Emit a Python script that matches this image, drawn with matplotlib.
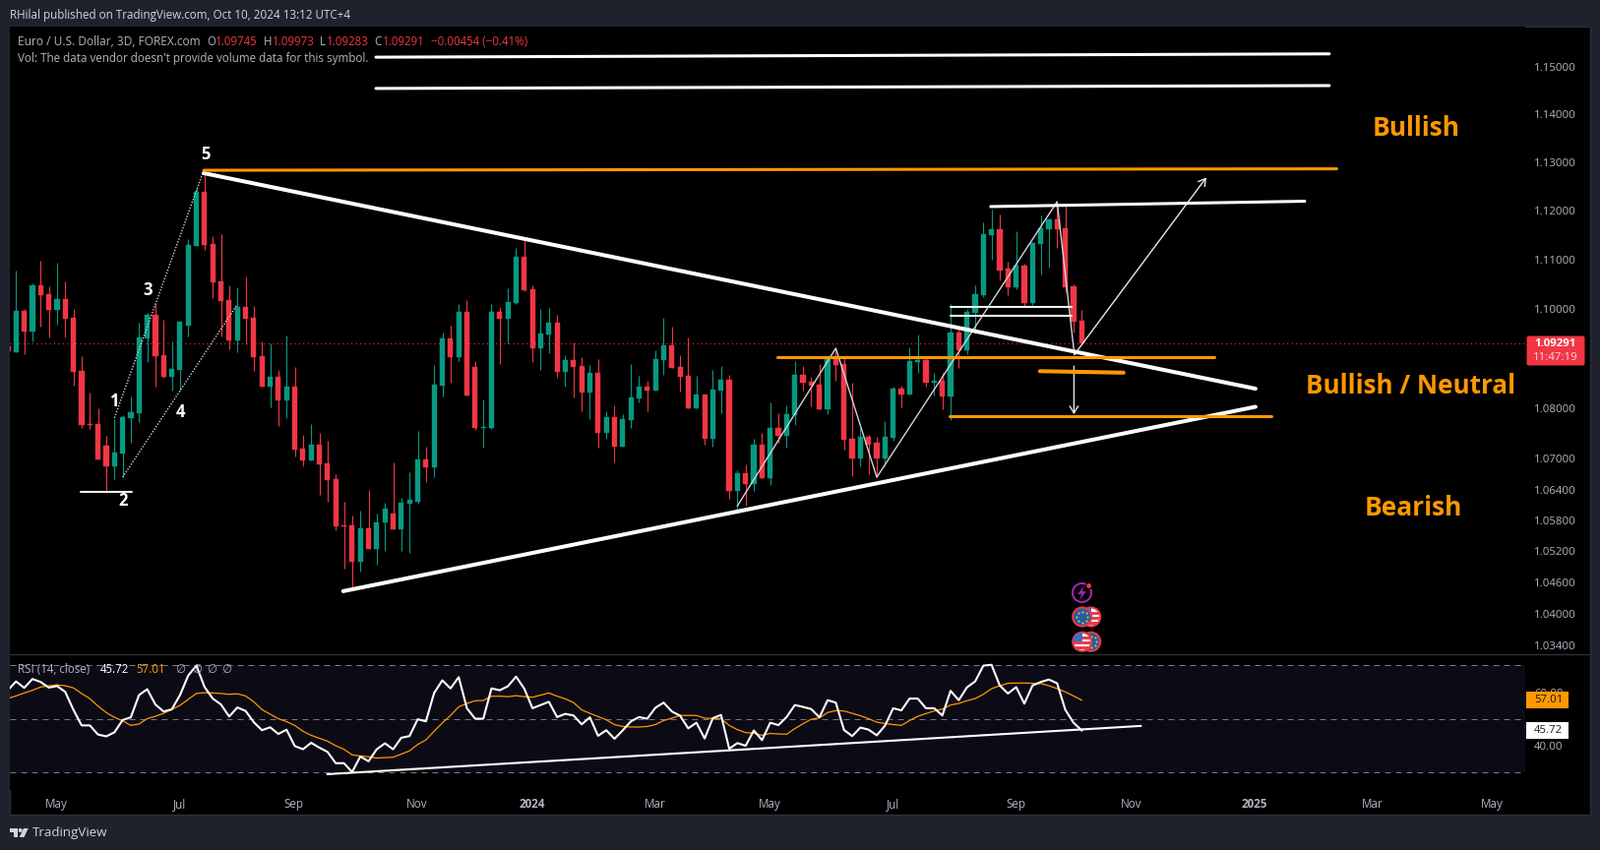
import matplotlib
matplotlib.use('Agg')
import matplotlib.pyplot as plt
import matplotlib.patches as mpatches
from matplotlib.ticker import NullLocator
import numpy as np

W, H = 1626, 864
plt.rcParams['font.family'] = ['Open Sans', 'DejaVu Sans']

# EURUSD 3D candles, first one is cut by the left edge of the pane
opens = [1.0923,
    1.0912,1.0995,1.0954,1.1047,1.1029,1.0997,1.1019,1.0981,1.0875,1.0768,
    1.0769,1.0726,1.0686,1.0711,1.0781,1.0790,1.0940,1.0987,1.0906,1.0863,
    1.0876,1.0965,1.1127,1.1238,1.1131,1.1055,1.1017,1.0936,1.1003,1.0981,
    1.0904,1.0843,1.0863,1.0816,1.0843,1.0720,1.0697,1.0728,1.0692,1.0660,
    1.0570,1.0570,1.0500,1.0565,1.0525,1.0575,1.0593,1.0563,1.0612,1.0617,
    1.0699,1.0684,1.0845,1.0940,1.0902,1.0993,1.0882,1.0762,1.0761,1.0993,
    1.0979,1.1011,1.1105,1.1039,1.0920,1.0948,1.0971,1.0873,1.0896,1.0884,
    1.0831,1.0871,1.0751,1.0783,1.0724,1.0777,1.0820,1.0843,1.0835,1.0896,
    1.0926,1.0882,1.0865,1.0800,1.0828,1.0739,1.0835,1.0857,1.0637,1.0672,
    1.0651,1.0728,1.0662,1.0761,1.0746,1.0787,1.0867,1.0853,1.0847,1.0798,
    1.0904,1.0888,1.0739,1.0701,1.0744,1.0732,1.0701,1.0741,1.0839,1.0828,
    1.0892,1.0896,1.0851,1.0855,1.0824,1.0952,1.0916,1.0991,1.1027,1.1149,
    1.1161,1.1080,1.1043,1.1086,1.1011,1.1131,1.1161,1.1182,1.1164,1.1045,1.09745]
highs = [1.0923,
    1.1077,1.0999,1.1051,1.1097,1.1045,1.1093,1.1055,1.0999,1.0904,1.0831,
    1.0800,1.0746,1.0779,1.0787,1.0824,1.0971,1.0991,1.1011,1.0977,1.0934,
    1.0973,1.1141,1.1249,1.1277,1.1147,1.1152,1.1047,1.1043,1.1065,1.1005,
    1.0934,1.0930,1.0876,1.0946,1.0882,1.0748,1.0769,1.0751,1.0736,1.0670,
    1.0616,1.0589,1.0599,1.0639,1.0593,1.0614,1.0693,1.0623,1.0674,1.0756,
    1.0724,1.0886,1.0952,1.0965,1.1010,1.1017,1.0894,1.0818,1.1010,1.1003,
    1.1041,1.1123,1.1141,1.1047,1.0999,1.1001,1.0987,1.0906,1.0932,1.0902,
    1.0886,1.0898,1.0794,1.0806,1.0788,1.0888,1.0865,1.0855,1.0916,1.0981,
    1.0963,1.0906,1.0942,1.0865,1.0828,1.0876,1.0884,1.0867,1.0678,1.0690,
    1.0739,1.0751,1.0812,1.0790,1.0806,1.0894,1.0884,1.0863,1.0888,1.0904,
    1.0918,1.0904,1.0851,1.0761,1.0748,1.0744,1.0775,1.0843,1.0845,1.0922,
    1.0948,1.0902,1.0871,1.0871,1.1010,1.0963,1.0999,1.1047,1.1176,1.1202,
    1.1192,1.1095,1.1157,1.1091,1.1135,1.1190,1.1184,1.1218,1.1210,1.1049,1.09973]
lows = [1.0913,
    1.0912,1.0908,1.0934,1.0963,1.0942,1.0967,1.0942,1.0845,1.0761,1.0759,
    1.0699,1.0633,1.0660,1.0664,1.0732,1.0773,1.0892,1.0843,1.0861,1.0835,
    1.0835,1.0944,1.1127,1.1119,1.1021,1.0944,1.0918,1.0912,1.0928,1.0875,
    1.0843,1.0802,1.0765,1.0781,1.0705,1.0686,1.0697,1.0630,1.0616,1.0561,
    1.0487,1.0447,1.0481,1.0525,1.0494,1.0521,1.0563,1.0521,1.0516,1.0612,
    1.0655,1.0664,1.0824,1.0851,1.0894,1.0826,1.0757,1.0722,1.0759,1.0888,
    1.0930,1.1010,1.1035,1.0892,1.0876,1.0910,1.0861,1.0843,1.0822,1.0794,
    1.0779,1.0722,1.0739,1.0693,1.0724,1.0761,1.0812,1.0794,1.0835,1.0867,
    1.0880,1.0833,1.0800,1.0800,1.0729,1.0724,1.0790,1.0622,1.0601,1.0609,
    1.0637,1.0662,1.0649,1.0732,1.0722,1.0767,1.0835,1.0804,1.0798,1.0788,
    1.0855,1.0718,1.0666,1.0686,1.0670,1.0664,1.0686,1.0736,1.0802,1.0828,
    1.0871,1.0843,1.0826,1.0798,1.0777,1.0880,1.0908,1.0950,1.1023,1.1099,
    1.1057,1.1027,1.1039,1.1003,1.1007,1.1069,1.1083,1.1123,1.1033,1.0952,1.09283]
closes = [1.0913,
    1.0995,1.0954,1.1047,1.1027,1.0997,1.1019,1.0979,1.0873,1.0767,1.0767,
    1.0699,1.0686,1.0713,1.0783,1.0792,1.0942,1.0987,1.0904,1.0863,1.0878,
    1.0973,1.1129,1.1238,1.1129,1.1053,1.1015,1.0936,1.1003,1.0979,1.0902,
    1.0843,1.0863,1.0816,1.0843,1.0718,1.0697,1.0728,1.0690,1.0658,1.0568,
    1.0569,1.0500,1.0565,1.0525,1.0576,1.0603,1.0563,1.0614,1.0619,1.0699,
    1.0684,1.0847,1.0940,1.0902,1.0993,1.0826,1.0761,1.0763,1.0993,1.0979,
    1.1013,1.1105,1.1037,1.0920,1.0950,1.0971,1.0873,1.0896,1.0882,1.0831,
    1.0871,1.0751,1.0783,1.0724,1.0779,1.0822,1.0843,1.0835,1.0898,1.0926,
    1.0880,1.0863,1.0800,1.0828,1.0739,1.0837,1.0857,1.0637,1.0672,1.0651,
    1.0728,1.0662,1.0761,1.0746,1.0788,1.0867,1.0851,1.0845,1.0798,1.0904,
    1.0886,1.0737,1.0701,1.0744,1.0729,1.0701,1.0744,1.0839,1.0828,1.0894,
    1.0896,1.0851,1.0855,1.0824,1.0952,1.0916,1.0993,1.1029,1.1151,1.1161,
    1.1077,1.1043,1.1086,1.1011,1.1133,1.1164,1.1182,1.1161,1.1043,1.0973,1.09291]

rsi = [60.7,
    64.0,61.6,64.9,63.8,61.7,62.3,60.1,53.4,47.6,47.6,
    44.2,43.5,45.0,49.6,50.6,58.9,61.1,55.4,52.8,53.6,
    58.9,66.2,69.9,61.9,57.6,55.4,50.9,54.3,53.0,48.8,
    45.8,46.9,44.4,46.0,39.9,38.7,41.1,39.3,37.7,33.5,
    33.5,30.2,36.0,34.2,38.7,40.9,38.7,43.0,43.6,49.9,
    49.1,59.7,64.4,61.4,65.6,54.0,50.1,50.1,61.4,60.7,
    62.2,65.8,61.3,54.0,55.2,56.4,50.7,51.9,51.3,48.0,
    50.6,43.7,45.8,42.6,45.7,49.1,50.7,50.1,54.2,56.1,
    52.8,51.2,46.5,48.6,42.7,50.3,51.5,38.9,41.0,40.0,
    45.7,42.1,48.6,47.7,50.7,55.2,54.5,53.7,50.6,57.0,
    56.1,45.9,43.6,46.8,46.0,43.9,47.5,54.0,53.2,57.6,
    57.6,54.0,54.0,51.3,60.5,57.0,61.8,64.0,69.9,70.2,
    62.5,59.5,61.9,55.7,62.5,63.8,64.7,63.3,53.4,48.6,45.72]
rsi_ma = [57.6,
    58.6,59.7,60.7,61.9,62.4,62.7,62.4,61.6,59.5,57.6,
    54.8,52.4,50.6,49.3,47.6,48.1,50.1,51.0,52.1,53.5,
    55.1,57.3,59.5,59.8,59.7,59.5,59.2,59.4,58.6,56.4,
    53.5,51.8,50.1,49.0,47.6,45.4,43.9,42.8,41.7,40.0,
    38.7,36.6,36.2,35.9,35.4,35.6,35.7,36.9,38.1,40.5,
    42.2,45.4,48.5,51.3,54.5,55.8,56.8,56.9,58.5,58.5,
    58.3,58.7,58.3,58.1,58.9,59.7,58.5,57.5,56.1,53.4,
    52.1,50.9,49.7,47.9,47.2,47.0,47.0,47.2,47.9,49.4,
    50.3,51.3,51.3,51.3,50.3,50.2,50.1,47.6,46.0,44.9,
    44.7,43.9,44.6,44.4,44.3,46.4,48.2,49.9,50.4,52.4,
    53.1,53.0,52.1,51.2,50.1,48.8,48.3,47.9,47.6,49.4,
    51.0,52.0,53.0,53.7,55.2,55.8,56.8,57.6,59.2,61.3,
    62.4,63.3,63.4,63.4,63.3,63.2,62.4,61.3,60.1,58.6,57.01]

price_ticks = [1.034, 1.04, 1.046, 1.052, 1.058, 1.064, 1.07, 1.08,
               1.10, 1.11, 1.12, 1.13, 1.14, 1.15]
time_ticks = [4.95, 19.95, 33.9, 48.9, 63, 78, 92, 107, 122, 136, 151, 165.5, 180]
time_labels = ['May', 'Jul', 'Sep', 'Nov', '2024', 'Mar', 'May', 'Jul', 'Sep', 'Nov',
               '2025', 'Mar', 'May']

# drawings, (bar, price)
white_thick = [[(22.9, 1.1277), (151.2, 1.0839)], [(39.9, 1.0443), (151.2, 1.0803)]]
white_mid = [[(43.9, 1.1520), (160.2, 1.1527)], [(43.9, 1.1454), (160.2, 1.1460)],
             [(118.9, 1.1208), (157.2, 1.1219)]]
orange_lines = [[(22.9, 1.1283), (161.1, 1.1286)], [(92.9, 1.0902), (146.2, 1.0902)],
                [(124.9, 1.0874), (135.1, 1.0871)], [(113.9, 1.0785), (153.1, 1.0785)]]
white_thin = [[(114.0, 1.1004), (128.8, 1.1004)], [(114.0, 1.0985), (128.8, 1.0985)],
              [(7.9, 1.0636), (14.1, 1.0636)]]
wave_dotted = [[(12.0, 1.0781), (22.9, 1.1283)], [(13.0, 1.0664), (26.9, 1.1006)]]
zigzag = [(88.0, 1.0608), (100.0, 1.0920), (105.0, 1.0664), (127.0, 1.1218), (129.1, 1.0907)]
arrow_up = [(129.1, 1.0907), (145.2, 1.1268)]
arrow_down = [(129.05, 1.0884), (129.05, 1.0788)]
rsi_trend = [(38.0, 29.4), (137.2, 47.4)]

GREEN = '#089981'
RED = '#F23645'
ORANGE = '#FF9800'
TEXT = '#B2B5BE'
BG = '#1E222D'
BORDER = '#2A2E39'


def axes_rect(x0, y0, x1, y1):
    return [x0 / W, 1 - y1 / H, (x1 - x0) / W, (y1 - y0) / H]


fig = plt.figure(figsize=(W / 100, H / 100), dpi=100, facecolor=BG)

# frame behind the panes
back = fig.add_axes([0, 0, 1, 1], zorder=0)
back.set_xlim(0, W)
back.set_ylim(H, 0)
back.axis('off')
back.add_patch(mpatches.Rectangle((10, 27), 1606, 801, fc='black', ec=BORDER, lw=1))

# --------------------------------------------------
# price pane
# --------------------------------------------------
ax = fig.add_axes(axes_rect(10, 27, 1550, 665), zorder=1)
ax.set_facecolor('black')
bars = np.arange(len(opens)) - 1
o, h, l, c = map(np.array, (opens, highs, lows, closes))
colors = [GREEN if cc >= oo else RED for oo, cc in zip(o, c)]
ax.vlines(bars, l, h, colors=colors, lw=0.8, zorder=2)
ax.bar(bars, np.abs(c - o), bottom=np.minimum(o, c), width=0.62, color=colors,
       edgecolor=colors, linewidth=0.3, zorder=3)
ax.axhline(closes[-1], color=RED, lw=0.8, ls=(0, (1, 3)), zorder=1)

for seg in wave_dotted:
    xs, ys = zip(*seg)
    ax.plot(xs, ys, color='#D1D4DC', lw=1.0, ls=(0, (1, 1.2)), zorder=4)
xs, ys = zip(*zigzag)
ax.plot(xs, ys, color='#D1D4DC', lw=1.0, zorder=4)
for seg in (arrow_up, arrow_down):
    ax.annotate('', xy=seg[1], xytext=seg[0], zorder=4,
                arrowprops=dict(arrowstyle='->,head_length=0.5,head_width=0.3',
                                color='#E8E8E8', lw=1.0, shrinkA=0, shrinkB=0))
for seg in white_thin:
    xs, ys = zip(*seg)
    ax.plot(xs, ys, color='#F0F0F0', lw=1.5, zorder=5, solid_capstyle='round')
for seg in white_thick:
    xs, ys = zip(*seg)
    ax.plot(xs, ys, color='white', lw=2.9, zorder=5, solid_capstyle='round')
for seg in white_mid:
    xs, ys = zip(*seg)
    ax.plot(xs, ys, color='white', lw=2.2, zorder=5, solid_capstyle='round')
for i, seg in enumerate(orange_lines):
    xs, ys = zip(*seg)
    ax.plot(xs, ys, color=ORANGE, lw=2.9 if i == 2 else 2.2, zorder=6, solid_capstyle='round')

ax.set_yscale('log')
ax.set_xlim(-0.756, 184.1)
ax.set_ylim(1.03227, 1.15850)
ax.set_yticks(price_ticks, labels=['%.5f' % p for p in price_ticks])
ax.yaxis.set_minor_locator(NullLocator())
ax.yaxis.tick_right()
ax.tick_params(axis='y', length=0, pad=6.5, labelcolor=TEXT, labelsize=8.2)
ax.set_xticks([])
for sp in ax.spines.values():
    sp.set_visible(False)

# --------------------------------------------------
# RSI pane
# --------------------------------------------------
ax2 = fig.add_axes(axes_rect(10, 665, 1550, 803), zorder=2)
ax2.set_facecolor('black')
ax2.axhspan(30, 70, color='#0C0A15', lw=0, zorder=0)
for level in (70, 50, 30):
    ax2.axhline(level, color='#787B86', lw=0.72, ls=(0, (6, 5)), zorder=1)
ax2.plot(bars, rsi_ma, color=ORANGE, lw=0.9, zorder=2)
ax2.plot(bars, rsi, color='white', lw=1.5, zorder=3)
xs, ys = zip(*rsi_trend)
ax2.plot(xs, ys, color='white', lw=1.5, zorder=4)
ax2.set_xlim(-0.756, 184.1)
ax2.set_ylim(23.5, 74.15)
ax2.set_yticks([40, 60], labels=['40.00', '60.00'])
ax2.yaxis.tick_right()
ax2.set_xticks(time_ticks, labels=time_labels)
ax2.tick_params(axis='y', length=0, pad=6.5, labelcolor=TEXT, labelsize=8.2)
ax2.tick_params(axis='x', length=0, pad=6, labelcolor=TEXT, labelsize=8.4)
for lab in ax2.get_xticklabels():
    if lab.get_text() == '2024' or lab.get_text() == '2025':
        lab.set_fontweight('bold')
for sp in ax2.spines.values():
    sp.set_visible(False)

# --------------------------------------------------
# everything placed on the canvas, in pixels
# --------------------------------------------------
ov = fig.add_axes([0, 0, 1, 1], zorder=5)
ov.set_xlim(0, W)
ov.set_ylim(H, 0)
ov.axis('off')
ov.patch.set_alpha(0)
ov.plot([10, 1616], [665.3, 665.3], color=BORDER, lw=1)


def label(x, y, s, color=TEXT, size=8.3, ha='left', **kw):
    ov.text(x, y, s, color=color, fontsize=size, ha=ha, va='center', **kw)


label(10, 15, 'RHilal published on TradingView.com, Oct 10, 2024 13:12 UTC+4', '#D1D4DC', 8.35)
label(18, 42, 'Euro / U.S. Dollar, 3D, FOREX.com', size=8.6)
for x, s in ((210, 'O'), (267.6, 'H'), (325, 'L'), (380, 'C')):
    label(x, 42, s)
for x, s in ((219, '1.09745'), (276.6, '1.09973'), (331.7, '1.09283'), (389, '1.09291'),
             (438, '\u22120.00454 (\u22120.41%)')):
    label(x, 42, s, RED)
label(18, 59, "Vol: The data vendor doesn't provide volume data for this symbol.", size=8.35)

for x, y, s in ((208.6, 157, '5'), (150, 295, '3'), (116, 408, '1'), (125, 509, '2'), (183, 419, '4')):
    label(x, y, s, 'white', 12, ha='center', fontweight='bold')

label(1439, 130, 'Bullish', ORANGE, 19, ha='center', fontweight='bold')
label(1434, 392, 'Bullish / Neutral', ORANGE, 18.7, ha='center', fontweight='bold')
label(1436, 516, 'Bearish', ORANGE, 19, ha='center', fontweight='bold')

# last price tag
ov.add_patch(mpatches.FancyBboxPatch((1552, 342), 58, 29, boxstyle='round,pad=0,rounding_size=1.5',
                                     fc=RED, ec=RED, lw=0.7))
label(1580, 350, '1.09291', 'white', 8.2, ha='center', fontweight='bold')
label(1581, 363.5, '11:47:19', '#FFD9DD', 8.2, ha='center')

# RSI tags and legend
ov.add_patch(mpatches.Rectangle((1551, 703), 43, 17, fc=ORANGE, ec='none'))
label(1559, 711.5, '57.01', '#131722', 8.2)
ov.add_patch(mpatches.Rectangle((1551, 734), 43, 17, fc='white', ec='none'))
label(1559, 742.5, '45.72', '#131722', 8.2)
label(18, 681, 'RSI (14, close)')
label(102, 681, '45.72', 'white')
label(138.6, 681, '57.01', ORANGE)
for x in (178, 195, 210, 225):
    label(x, 681, '\u2205')

# news and events icons
ov.add_patch(mpatches.Circle((1099.5, 602.5), 9.5, fc='black', ec='#9C27B0', lw=1.5))
ov.add_patch(mpatches.Polygon([(1102, 595), (1095, 604), (1099, 604), (1097, 610), (1104, 601), (1100, 601)],
                              fc='#9C27B0', ec='none'))
ov.add_patch(mpatches.Circle((1106.5, 595.5), 3, fc=RED, ec='black', lw=0.8))


def eu_flag(cx, cy):
    ov.add_patch(mpatches.Circle((cx, cy), 9.5, fc='#1F5FA8', ec=RED, lw=1.5))
    t = np.linspace(0, 2 * np.pi, 9)[:-1]
    ov.scatter(cx + 5.5 * np.cos(t), cy + 5.5 * np.sin(t), s=2.5, c='#E0B83A', linewidths=0)


def us_flag(cx, cy):
    circ = mpatches.Circle((cx, cy), 9.5, fc='white', ec=RED, lw=1.5)
    ov.add_patch(circ)
    for k in (-5, 0, 5):
        r = mpatches.Rectangle((cx - 10, cy + k), 20, 2.5, fc='#E0414A', ec='none')
        ov.add_patch(r)
        r.set_clip_path(circ)
    r = mpatches.Rectangle((cx - 10, cy - 10), 10, 9.5, fc='#3C6EC4', ec='none')
    ov.add_patch(r)
    r.set_clip_path(circ)


us_flag(1108.7, 627)
eu_flag(1099.7, 627)
eu_flag(1108.7, 652.3)
us_flag(1099.7, 652.3)

# TradingView mark and wordmark
logo = '#D1D4DC'
ov.add_patch(mpatches.Polygon([(10, 842), (17.5, 842), (17.5, 851), (13.5, 851), (13.5, 846), (10, 846)],
                              fc=logo, ec='none'))
ov.add_patch(mpatches.Circle((20.7, 844), 2, fc=logo, ec='none'))
ov.add_patch(mpatches.Polygon([(24, 842), (28.7, 842), (24.5, 851), (19.7, 851)], fc=logo, ec='none'))
label(33, 846.5, 'TradingView', logo, 9.6)

fig.savefig('out.png', dpi=100, facecolor=BG)
